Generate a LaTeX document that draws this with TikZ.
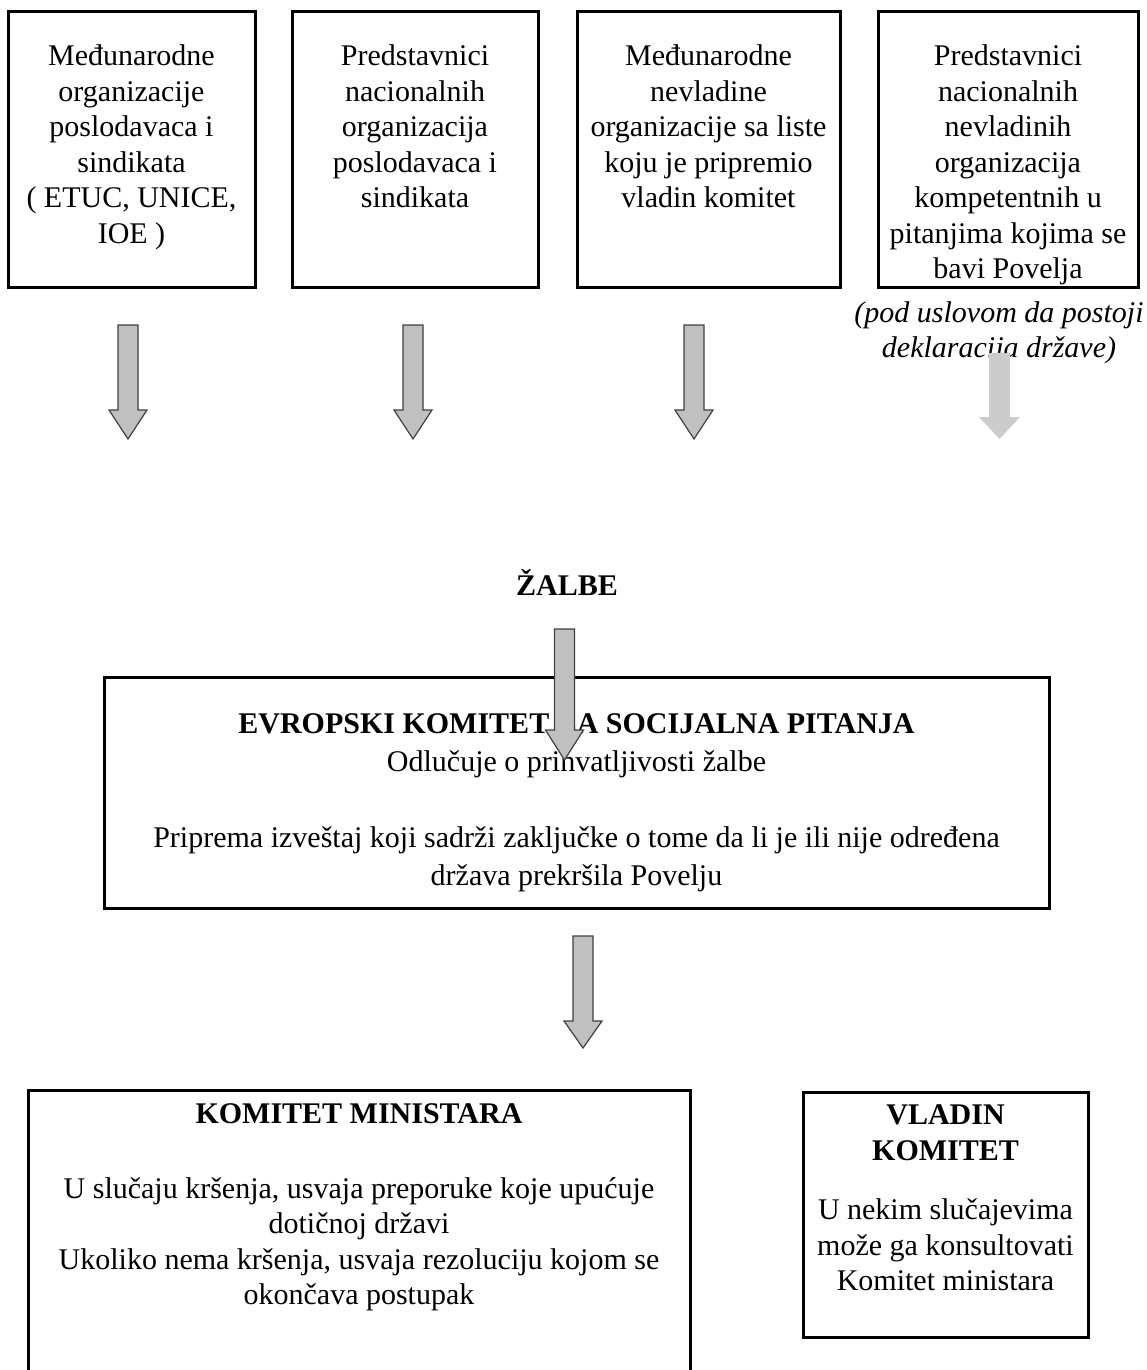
\documentclass[tikz,border=0pt]{standalone}
\usepackage{fontspec}
\setmainfont{Liberation Serif}
\usetikzlibrary{positioning}
\definecolor{arrowgray}{RGB}{192,192,192}
\definecolor{arrowlight}{RGB}{204,204,204}
\tikzset{
    box/.style={draw, line width=1.5pt, inner sep=0pt},
    boxtext/.style={align=center, inner sep=0pt, font=\fontsize{15pt}{17.75pt}\selectfont},
    grayarrow/.style={fill=arrowgray, draw=black!75, line width=0.6pt},
    fadedarrow/.style={fill=arrowlight}
}

\begin{document}
\begin{tikzpicture}[x=0.5pt, y=-0.5pt]
    \useasboundingbox (0,0) rectangle (1146,1370);

    % Top row of boxes.
    \node[box, minimum width=123.5pt, minimum height=137.5pt] (b1) at (131.5,149.5) {};
    \node[box, minimum width=123pt, minimum height=137.5pt] (b2) at (415,149.5) {};
    \node[box, minimum width=131.5pt, minimum height=137.5pt] (b3) at (708.5,149.5) {};
    \node[box, minimum width=130pt, minimum height=137.5pt] (b4) at (1008,149.5) {};

    \node[boxtext, below=17pt of b1.north] (t1) {Međunarodne\\organizacije\\poslodavaca i\\sindikata\\( ETUC, UNICE,\\IOE )};
    \node[boxtext, below=17pt of b2.north] (t2) {Predstavnici\\nacionalnih\\organizacija\\poslodavaca i\\sindikata};
    \node[boxtext, below=17pt of b3.north] (t3) {Međunarodne\\nevladine\\organizacije sa liste\\koju je pripremio\\vladin komitet};
    \node[boxtext, below=17pt of b4.north] (t4) {Predstavnici\\nacionalnih\\nevladinih\\organizacija\\kompetentnih u\\pitanjima kojima se\\bavi Povelja};

    \node[boxtext, font=\fontsize{15pt}{17.75pt}\selectfont\itshape] (cond) at (999,333) {(pod uslovom da postoji\\deklaracija države)};

    % Complaints and the committee.
    \node[boxtext, font=\fontsize{15pt}{17.75pt}\selectfont\bfseries] (zalbe) at (567,583) {ŽALBE};

    \node[box, minimum width=472.5pt, minimum height=115.5pt] (ekso) at (576.5,792.5) {};
    \node[boxtext, font=\fontsize{15pt}{19pt}\selectfont, below=19pt of ekso.north] (tekso)
        {\textbf{EVROPSKI KOMITET ZA SOCIJALNA PITANJA}\\Odlučuje o prihvatljivosti žalbe\\[19pt]
         Priprema izveštaj koji sadrži zaključke o tome da li je ili nije određena\\država prekršila Povelju};

    % Bottom boxes.
    \node[box, minimum width=331pt, minimum height=150pt] (km) at (359,1240) {};
    \node[boxtext, below=7.5pt of km.north] (tkm)
        {\textbf{KOMITET MINISTARA}\\[19.5pt]U slučaju kršenja, usvaja preporuke koje upućuje\\dotičnoj državi\\Ukoliko nema kršenja, usvaja rezoluciju kojom se\\okončava postupak};

    \node[box, minimum width=142.5pt, minimum height=122.5pt] (vk) at (945.5,1214.5) {};
    \node[boxtext, below=7pt of vk.north] (tvk)
        {\textbf{VLADIN}\\\textbf{KOMITET}\\[12pt]U nekim slučajevima\\može ga konsultovati\\Komitet ministara};

    % Block arrows.
    \foreach \cx/\ya/\yb/\yc in {128/325/410/439, 413/325/410/439, 694/325/410/439, 564.5/629/730/760, 583/936/1021/1048}
        \draw[grayarrow] (\cx-10,\ya) -- (\cx+10,\ya) -- (\cx+10,\yb) -- (\cx+19,\yb)
            -- (\cx,\yc) -- (\cx-19,\yb) -- (\cx-10,\yb) -- cycle;
    \fill[fadedarrow] (989,353) -- (1010,353) -- (1010,417) -- (1020,417)
        -- (999.5,439) -- (979,417) -- (989,417) -- cycle;
\end{tikzpicture}
\end{document}
